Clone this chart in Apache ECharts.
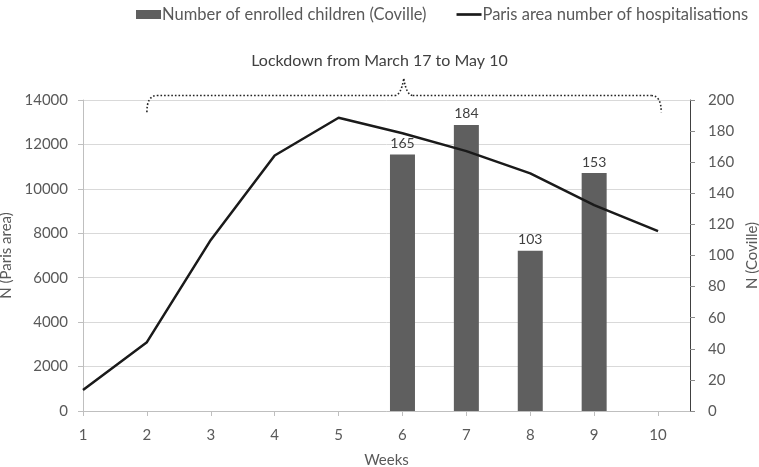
<!DOCTYPE html>
<html>
<head>
<meta charset="utf-8">
<script src="https://cdn.jsdelivr.net/npm/echarts@6/dist/echarts.min.js"></script>
<style>html,body{margin:0;padding:0;background:#fff}#c{width:759px;height:467px}</style>
</head>
<body>
<div id="c"></div>
<script>
// ---- data ----
const weeks = [1, 2, 3, 4, 5, 6, 7, 8, 9, 10];
const hospitalisations = [950, 3100, 7700, 11500, 13200, 12500, 11700, 10700, 9270, 8100];
const enrolledWeeks = [6, 7, 8, 9];
const enrolledChildren = [165, 184, 103, 153];
const leftTicks = [0, 2000, 4000, 6000, 8000, 10000, 12000, 14000];
const rightTicks = [0, 20, 40, 60, 80, 100, 120, 140, 160, 180, 200];
const lockdownText = 'Lockdown from March 17 to May 10';
const lockdownStartWeek = 2;
const lockdownEndWeek = 10.05;
const lineName = 'Paris area number of hospitalisations';
const barName = 'Number of enrolled children (Coville)';

const FONT = 'Lato';
const TXT = '#595959';
const chart = echarts.init(document.getElementById('c'), null, {renderer: 'canvas'});
const plain = v => String(v);

const option = {
  animation: false,
  textStyle: {fontFamily: FONT},
  title: {
    text: lockdownText, left: 'center', top: 48,
    textStyle: {fontFamily: FONT, fontSize: 16, fontWeight: 'normal', color: '#404040'}
  },
  legend: {
    left: 131, top: 1, itemGap: 30, itemWidth: 25, itemHeight: 9,
    textStyle: {fontFamily: FONT, fontSize: 16.5, color: TXT, padding: [0, 0, 0, -4]},
    data: [
      {name: barName, icon: 'rect'},
      {name: lineName, icon: 'path://M0,0L28,0L28,3L0,3Z'}
    ]
  },
  grid: {left: 83, right: 69, top: 100, bottom: 56, containLabel: false, outerBoundsMode: 'none'},
  xAxis: {
    type: 'value', min: 1, max: 10.5, interval: 1,
    name: 'Weeks', nameLocation: 'middle', nameGap: 42,
    nameTextStyle: {fontFamily: FONT, fontSize: 15, color: TXT},
    axisLine: {show: true, lineStyle: {color: '#bfbfbf', width: 1}},
    axisTick: {show: true, length: 5, lineStyle: {color: '#bfbfbf'}, customValues: weeks},
    axisLabel: {customValues: weeks, formatter: plain, fontFamily: FONT, fontSize: 15, color: TXT, margin: 17},
    splitLine: {show: false}
  },
  yAxis: [{
    type: 'value', min: 0, max: 14000, interval: 2000, position: 'left',
    name: 'N (Paris area)', nameLocation: 'middle', nameGap: 64, nameRotate: 90,
    nameTextStyle: {fontFamily: FONT, fontSize: 15, color: TXT},
    axisLine: {show: true, lineStyle: {color: '#bfbfbf'}},
    axisTick: {show: true, length: 5, lineStyle: {color: '#bfbfbf'}},
    axisLabel: {customValues: leftTicks, formatter: plain, fontFamily: FONT, fontSize: 15, color: TXT, margin: 15},
    splitLine: {show: true, lineStyle: {color: '#d9d9d9', width: 1}}
  }, {
    type: 'value', min: 0, max: 200, interval: 20, position: 'right',
    name: 'N (Coville)', nameLocation: 'middle', nameGap: 53, nameRotate: 90,
    nameTextStyle: {fontFamily: FONT, fontSize: 15, color: TXT},
    axisLine: {show: true, lineStyle: {color: '#404040'}},
    axisTick: {show: true, length: 5, lineStyle: {color: '#8c8c8c'}},
    axisLabel: {customValues: rightTicks, formatter: plain, fontFamily: FONT, fontSize: 15, color: TXT, margin: 18},
    splitLine: {show: false}
  }],
  series: [{
    name: barName, type: 'bar', yAxisIndex: 1, barWidth: 25,
    data: enrolledWeeks.map((w, i) => [w, enrolledChildren[i]]),
    itemStyle: {color: '#5f5f5f'},
    label: {show: true, position: 'top', distance: 4, fontFamily: FONT, fontSize: 14, color: '#404040'},
    z: 2
  }, {
    name: lineName, type: 'line', yAxisIndex: 0, symbol: 'none',
    data: weeks.map((w, i) => [w, hospitalisations[i]]),
    lineStyle: {color: '#1a1a1a', width: 2.5},
    itemStyle: {color: '#1a1a1a'},
    z: 3
  }]
};
chart.setOption(option);

// ---- lockdown brace (dotted), positioned from data coordinates ----
const p = (x, y) => chart.convertToPixel({xAxisIndex: 0, yAxisIndex: 0}, [x, y]);
const [xL, yEnd] = p(lockdownStartWeek, 13450);
const [xR] = p(lockdownEndWeek, 13450);
const [xC, yPeak] = p(6.02, 14950);
const yH = p(2, 14200)[1];
const st = {fill: null, stroke: '#222', lineWidth: 1.6, lineDash: [1.6, 2]};
chart.setOption({
  graphic: [{
    type: 'group', silent: true, z: 10,
    children: [
      {type: 'bezierCurve', shape: {x1: xL, y1: yEnd, x2: xL + 10, y2: yH, cpx1: xL, cpy1: yH}, style: st},
      {type: 'line', shape: {x1: xL + 10, y1: yH, x2: xC - 9, y2: yH}, style: st},
      {type: 'bezierCurve', shape: {x1: xC - 9, y1: yH, x2: xC, y2: yPeak, cpx1: xC - 3, cpy1: yH}, style: st},
      {type: 'bezierCurve', shape: {x1: xC, y1: yPeak, x2: xC + 9, y2: yH, cpx1: xC + 3, cpy1: yH}, style: st},
      {type: 'line', shape: {x1: xC + 9, y1: yH, x2: xR - 10, y2: yH}, style: st},
      {type: 'bezierCurve', shape: {x1: xR - 10, y1: yH, x2: xR, y2: yEnd, cpx1: xR, cpy1: yH}, style: st}
    ]
  }]
});
</script>
</body>
</html>
